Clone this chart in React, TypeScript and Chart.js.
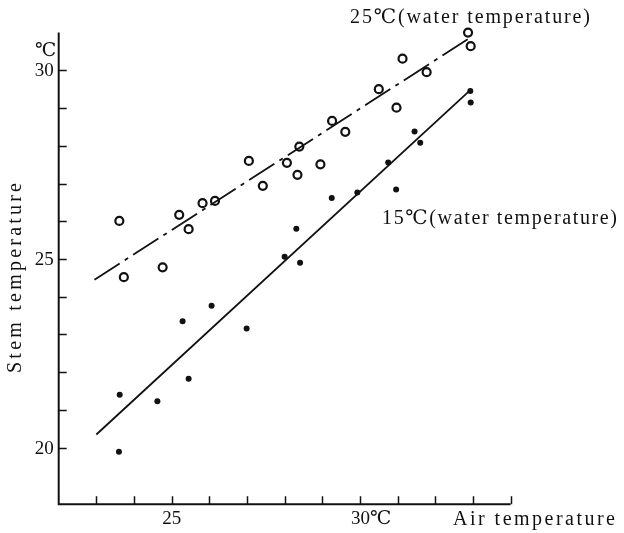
import React, { useEffect, useRef } from "react";
import { Chart, registerables } from "chart.js";

Chart.register(...registerables);

// 25℃ water: open circles
const airWarm = [23.61, 23.73, 24.76, 25.2, 25.45, 25.82, 26.15, 27.05, 27.42, 28.06, 28.34, 28.39, 28.95, 29.26, 29.61, 30.5, 30.97, 31.13, 31.77, 32.87, 32.94];
const stemWarm = [26.01, 24.52, 24.78, 26.17, 25.79, 26.48, 26.54, 27.6, 26.94, 27.55, 27.23, 27.98, 27.51, 28.66, 28.37, 29.5, 29.01, 30.31, 29.95, 31.0, 30.64];

// 15℃ water: filled dots
const airCool = [23.6, 23.62, 24.62, 25.29, 25.45, 26.06, 26.99, 28.0, 28.31, 28.41, 29.25, 29.93, 30.75, 30.96, 31.45, 31.6, 32.93, 32.94];
const stemCool = [19.89, 21.4, 21.23, 23.35, 21.83, 23.76, 23.16, 25.06, 25.8, 24.9, 26.62, 26.76, 27.56, 26.84, 28.38, 28.08, 29.45, 29.15];

// Fitted lines (end points)
const fitWarmAir = [22.95, 32.9];
const fitWarmStem = [24.45, 30.85];
const fitCoolAir = [23.0, 32.9];
const fitCoolStem = [20.35, 29.45];

// Axis ranges and ticks
const xMin = 22;
const xMax = 34;
const yMin = 18.5;
const yMax = 31;
const xTicks = [23, 24, 25, 26, 27, 28, 29, 30, 31, 32, 33, 34];
const yTicks = [20, 21, 22, 23, 24, 25, 26, 27, 28, 29, 30];
const yTickLabels = [20, 25, 30];

const labelWarm = "25℃(water temperature)";
const labelCool = "15℃(water temperature)";
const xTitle = "Air temperature";
const yTitle = "Stem temperature";

const zip = (xs: number[], ys: number[]) => xs.map((x, i) => ({ x, y: ys[i] }));

const SERIF = '"Liberation Serif", "DejaVu Serif", serif';

function fitText(ctx: CanvasRenderingContext2D, text: string, x: number, y: number, w: number) {
  (ctx as any).letterSpacing = "0px";
  const nat = ctx.measureText(text).width;
  const n = Array.from(text).length;
  const sp = n > 1 ? (w - nat) / (n - 1) : 0;
  (ctx as any).letterSpacing = `${sp}px`;
  ctx.textAlign = "left";
  ctx.fillText(text, x, y);
  (ctx as any).letterSpacing = "0px";
}

const axesPlugin = {
  id: "handAxes",
  afterDraw(chart: any) {
    const ctx: CanvasRenderingContext2D = chart.ctx;
    const xs = chart.scales.x;
    const ys = chart.scales.y;
    const { left, right, top, bottom } = chart.chartArea;
    ctx.save();
    ctx.strokeStyle = "#111";
    ctx.fillStyle = "#111";

    // axis lines
    ctx.lineWidth = 2;
    ctx.beginPath();
    ctx.moveTo(left, top);
    ctx.lineTo(left, bottom);
    ctx.lineTo(right, bottom);
    ctx.stroke();

    // inward ticks
    ctx.lineWidth = 1.5;
    ctx.beginPath();
    for (const v of yTicks) {
      const py = Math.round(ys.getPixelForValue(v)) + 0.5;
      ctx.moveTo(left, py);
      ctx.lineTo(left + 8, py);
    }
    for (const v of xTicks) {
      const px = Math.round(xs.getPixelForValue(v)) + 0.5;
      ctx.moveTo(px, bottom);
      ctx.lineTo(px, bottom - 8);
    }
    ctx.stroke();

    // tick labels
    ctx.font = `19px ${SERIF}`;
    ctx.textBaseline = "middle";
    ctx.textAlign = "right";
    for (const v of yTickLabels) {
      ctx.fillText(String(v), left - 5, ys.getPixelForValue(v) + 1);
    }
    ctx.textAlign = "center";
    ctx.fillText("℃", left - 13, ys.getPixelForValue(30) - 19);

    ctx.textAlign = "center";
    ctx.fillText("25", xs.getPixelForValue(25), bottom + 15);
    ctx.textAlign = "left";
    ctx.fillText("30℃", xs.getPixelForValue(30) - 9, bottom + 15);

    // titles
    ctx.font = `20px ${SERIF}`;
    ctx.textBaseline = "middle";
    fitText(ctx, xTitle, 453, 520, 162);
    fitText(ctx, labelWarm, 350, 18, 240);
    fitText(ctx, labelCool, 382, 219, 235);

    ctx.save();
    ctx.translate(16, 278);
    ctx.rotate(-Math.PI / 2);
    fitText(ctx, yTitle, -95, 0, 190);
    ctx.restore();

    ctx.restore();
  },
};

export default function App() {
  const ref = useRef<HTMLCanvasElement | null>(null);

  useEffect(() => {
    if (!ref.current) return;
    const chart = new Chart(ref.current, {
      type: "scatter",
      data: {
        datasets: [
          {
            label: "25℃ fit",
            data: zip(fitWarmAir, fitWarmStem),
            showLine: true,
            borderColor: "#111",
            borderWidth: 1.8,
            borderDash: [30, 6, 4, 6],
            pointRadius: 0,
            clip: false,
          },
          {
            label: "15℃ fit",
            data: zip(fitCoolAir, fitCoolStem),
            showLine: true,
            borderColor: "#111",
            borderWidth: 1.8,
            pointRadius: 0,
            clip: false,
          },
          {
            label: labelWarm,
            data: zip(airWarm, stemWarm),
            pointRadius: 4,
            pointBorderWidth: 2.2,
            pointBorderColor: "#111",
            pointBackgroundColor: "#fff",
            clip: false,
          },
          {
            label: labelCool,
            data: zip(airCool, stemCool),
            pointRadius: 3,
            pointBorderWidth: 0,
            pointBackgroundColor: "#111",
            clip: false,
          },
        ],
      },
      options: {
        responsive: false,
        animation: false,
        devicePixelRatio: 1,
        layout: { padding: { left: 58.7, right: 113.4, top: 32.6, bottom: 28.7 } },
        plugins: { legend: { display: false }, tooltip: { enabled: false } },
        scales: {
          x: { type: "linear", min: xMin, max: xMax, display: false },
          y: { type: "linear", min: yMin, max: yMax, display: false },
        },
      },
      plugins: [axesPlugin],
    });
    return () => chart.destroy();
  }, []);

  return (
    <div style={{ position: "fixed", left: 0, top: 0, width: 624, height: 533, background: "#fff" }}>
      <canvas ref={ref} width={624} height={533} />
    </div>
  );
}
